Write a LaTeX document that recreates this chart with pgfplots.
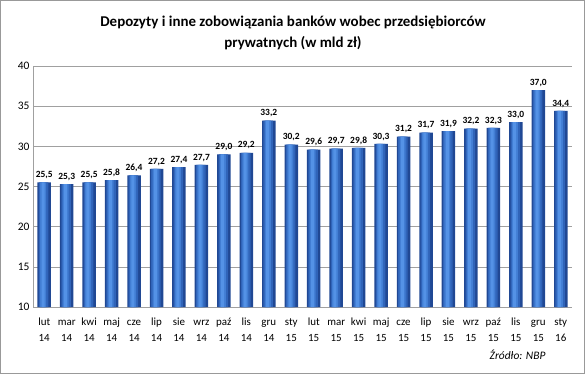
\documentclass[border=0pt]{standalone}
\usepackage{pgfplots}
\usepackage{pgfplotstable}
\pgfplotsset{compat=1.18}
\usepackage{fontspec}
\setmainfont{Carlito}
\definecolor{barA}{RGB}{32,72,148}
\definecolor{barB}{RGB}{48,100,185}
\definecolor{barC}{RGB}{66,126,212}
\definecolor{barD}{RGB}{84,146,230}
\definecolor{gridc}{RGB}{160,160,160}
\newcommand{\tl}[2]{\rule{0pt}{8.5bp}#1\\\rule{0pt}{8.5bp}#2}
\pgfplotstableread{
x y
0 25.5
1 25.3
2 25.5
3 25.8
4 26.4
5 27.2
6 27.4
7 27.7
8 29.0
9 29.2
10 33.2
11 30.2
12 29.6
13 29.7
14 29.8
15 30.3
16 31.2
17 31.7
18 31.9
19 32.2
20 32.3
21 33.0
22 37.0
23 34.4
}\data
\begin{document}
\begin{tikzpicture}[x=1bp,y=1bp]
\useasboundingbox (0,0) rectangle (585,374);
\draw[color=gray!80, line width=1.2bp] (0.6,0.6) rectangle (584.4,373.4);
\begin{axis}[
  at={(33bp,67bp)}, anchor=south west,
  scale only axis, width=539bp, height=241bp,
  xmin=-0.5, xmax=23.5, ymin=10, ymax=40,
  ytick={10,15,20,25,30,35,40},
  xtick={0,...,23},
  xticklabels={{\tl{lut}{14}},{\tl{mar}{14}},{\tl{kwi}{14}},{\tl{maj}{14}},{\tl{cze}{14}},{\tl{lip}{14}},{\tl{sie}{14}},{\tl{wrz}{14}},{\tl{paź}{14}},{\tl{lis}{14}},{\tl{gru}{14}},{\tl{sty}{15}},{\tl{lut}{15}},{\tl{mar}{15}},{\tl{kwi}{15}},{\tl{maj}{15}},{\tl{cze}{15}},{\tl{lip}{15}},{\tl{sie}{15}},{\tl{wrz}{15}},{\tl{paź}{15}},{\tl{lis}{15}},{\tl{gru}{15}},{\tl{sty}{16}}},
  xticklabel style={align=center, font=\fontsize{11}{16.5}\selectfont, yshift=-2bp},
  yticklabel style={font=\fontsize{11.5}{13}\selectfont},
  /pgf/number format/assume math mode=true,
  ymajorgrids, grid style={draw=gridc, line width=0.6bp},
  axis x line*=bottom, axis y line*=left,
  axis line style={draw=gridc, line width=0.8bp, -},
  major tick style={draw=none},
  ybar,
  clip=false,
]
\addplot[draw=none, fill=barA, bar width=13.5bp, bar shift=0bp,
  nodes near coords,
  nodes near coords style={text=black, font=\bfseries\fontsize{9.5}{11}\selectfont, /pgf/number format/.cd, fixed, fixed zerofill, precision=1, use comma, assume math mode=true}]
  table[x=x,y=y] {\data};
\addplot[draw=none, fill=barB, bar width=9.5bp, bar shift=-0.6bp] table[x=x,y=y] {\data};
\addplot[draw=none, fill=barC, bar width=6bp, bar shift=-1bp] table[x=x,y=y] {\data};
\addplot[draw=none, fill=barD, bar width=3bp, bar shift=-1.2bp] table[x=x,y=y] {\data};
\end{axis}
\node[font=\bfseries\fontsize{15}{21.5}\selectfont, align=center] at (293,341) {Depozyty i inne zobowiązania banków wobec przedsiębiorców\\prywatnych (w mld zł)};
\node[font=\itshape\fontsize{11.5}{13}\selectfont, anchor=east] at (549,19) {Źródło: NBP};
\end{tikzpicture}
\end{document}
